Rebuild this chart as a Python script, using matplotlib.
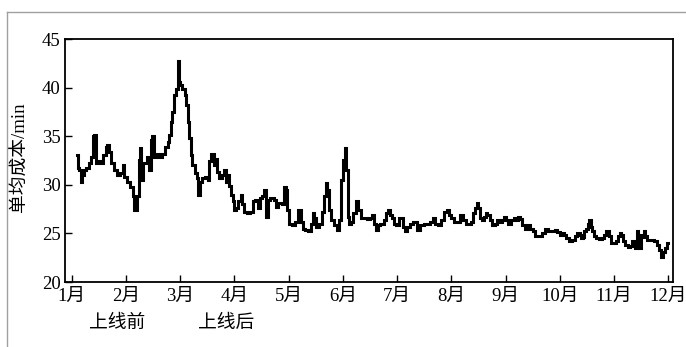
import matplotlib
matplotlib.use("Agg")
import matplotlib.pyplot as plt
from matplotlib.lines import Line2D

plt.rcParams['font.family'] = ['Liberation Serif', 'Noto Sans CJK SC', 'DejaVu Sans']

# x position in months (0 = 1月 tick), value = 单均成本 (min)
month_pos = [
    0.09, 0.12, 0.15, 0.18, 0.21, 0.24, 0.30, 0.34, 0.37, 0.40, 0.43, 0.45, 0.49, 0.55,
    0.61, 0.64, 0.67, 0.70, 0.74, 0.80, 0.86, 0.92, 0.95, 0.98, 1.04, 1.11, 1.13, 1.18,
    1.22, 1.24, 1.26, 1.29, 1.32, 1.38, 1.41, 1.44, 1.47, 1.50, 1.54, 1.58, 1.63, 1.69,
    1.75, 1.79, 1.81, 1.84, 1.87, 1.90, 1.94, 1.96, 1.98, 2.01, 2.06, 2.10, 2.12, 2.15,
    2.18, 2.21, 2.24, 2.29, 2.32, 2.35, 2.38, 2.43, 2.49, 2.52, 2.55, 2.60, 2.63, 2.67,
    2.70, 2.73, 2.80, 2.83, 2.86, 2.89, 2.92, 2.95, 2.98, 3.01, 3.04, 3.10, 3.13, 3.16,
    3.20, 3.26, 3.32, 3.35, 3.41, 3.44, 3.50, 3.53, 3.56, 3.60, 3.63, 3.69, 3.75, 3.78,
    3.84, 3.90, 3.93, 3.96, 3.99, 4.03, 4.09, 4.15, 4.18, 4.21, 4.24, 4.27, 4.33, 4.38,
    4.43, 4.46, 4.49, 4.53, 4.58, 4.64, 4.67, 4.70, 4.73, 4.76, 4.80, 4.86, 4.92, 4.95,
    4.98, 5.02, 5.05, 5.08, 5.10, 5.13, 5.16, 5.23, 5.27, 5.30, 5.35, 5.41, 5.47, 5.53,
    5.56, 5.59, 5.63, 5.65, 5.72, 5.78, 5.81, 5.84, 5.89, 5.93, 5.96, 6.01, 6.06, 6.09,
    6.12, 6.16, 6.21, 6.27, 6.32, 6.36, 6.39, 6.46, 6.52, 6.58, 6.64, 6.67, 6.73, 6.79,
    6.84, 6.89, 6.94, 6.98, 7.02, 7.07, 7.13, 7.19, 7.24, 7.29, 7.35, 7.38, 7.41, 7.46,
    7.48, 7.52, 7.54, 7.59, 7.62, 7.65, 7.68, 7.73, 7.78, 7.83, 7.87, 7.90, 7.96, 7.99,
    8.02, 8.07, 8.12, 8.18, 8.21, 8.26, 8.29, 8.33, 8.38, 8.42, 8.49, 8.51, 8.56, 8.64,
    8.70, 8.76, 8.82, 8.88, 8.93, 8.98, 9.01, 9.06, 9.10, 9.14, 9.19, 9.25, 9.30, 9.35,
    9.38, 9.41, 9.44, 9.47, 9.50, 9.53, 9.56, 9.58, 9.61, 9.65, 9.70, 9.75, 9.80, 9.84,
    9.88, 9.92, 9.96, 10.01, 10.05, 10.10, 10.11, 10.15, 10.18, 10.23, 10.27, 10.31, 10.36, 10.40,
    10.43, 10.46, 10.48, 10.50, 10.53, 10.56, 10.59, 10.64, 10.70, 10.76, 10.81, 10.85, 10.88, 10.92,
    10.96, 10.99,
]
cost = [
    33.1, 31.7, 31.5, 30.3, 31.0, 31.5, 31.7, 32.2, 32.9, 35.0, 35.1, 32.2, 32.4, 32.2,
    33.1, 33.9, 34.1, 33.4, 32.2, 31.5, 31.0, 31.2, 32.0, 30.8, 30.3, 29.8, 28.8, 27.4,
    28.8, 32.6, 33.8, 30.5, 32.2, 32.2, 32.9, 31.5, 34.6, 35.0, 32.9, 33.2, 32.9, 33.2,
    33.9, 34.4, 35.1, 36.5, 37.5, 39.2, 39.9, 42.7, 40.6, 40.3, 39.9, 39.2, 38.2, 36.5,
    34.8, 33.1, 32.0, 31.2, 30.7, 29.0, 30.3, 30.7, 30.8, 30.5, 32.4, 33.2, 32.0, 32.7,
    31.3, 30.7, 31.0, 31.5, 30.3, 31.0, 29.9, 29.0, 28.3, 27.4, 27.6, 28.3, 29.0, 28.0,
    27.2, 27.1, 27.2, 28.3, 28.4, 27.6, 28.6, 28.8, 29.5, 26.7, 28.4, 28.6, 28.4, 27.7,
    28.1, 28.0, 29.8, 29.5, 27.4, 26.0, 25.9, 26.2, 27.4, 27.4, 26.2, 25.5, 25.3, 25.2,
    26.0, 27.1, 26.6, 25.7, 26.0, 27.2, 28.8, 30.2, 29.5, 27.4, 26.4, 25.9, 25.3, 26.4,
    30.5, 32.6, 33.8, 31.5, 26.7, 26.0, 26.2, 27.1, 28.3, 27.4, 26.6, 26.6, 26.5, 26.6,
    26.9, 26.0, 25.3, 25.9, 26.0, 26.4, 27.1, 27.4, 26.9, 26.6, 26.0, 25.9, 26.6, 26.6,
    25.7, 25.2, 25.7, 26.0, 26.2, 26.2, 25.3, 25.9, 26.0, 26.0, 26.2, 26.6, 26.0, 25.9,
    26.4, 27.2, 27.4, 26.9, 26.6, 26.2, 26.2, 26.9, 26.4, 26.0, 26.0, 26.2, 27.1, 27.6,
    28.1, 27.6, 26.6, 26.4, 26.7, 27.1, 26.9, 26.4, 25.9, 26.0, 26.4, 26.2, 26.4, 26.7,
    26.4, 26.0, 26.4, 26.6, 26.4, 26.7, 26.5, 25.9, 25.5, 25.9, 25.5, 25.2, 24.7, 24.7,
    25.0, 25.5, 25.2, 25.2, 25.3, 25.1, 24.8, 25.0, 24.8, 24.5, 24.2, 24.3, 24.7, 25.0,
    24.8, 24.5, 24.6, 25.2, 25.5, 26.0, 26.4, 25.7, 25.2, 24.7, 24.5, 24.4, 24.5, 24.8,
    25.2, 24.7, 24.0, 24.0, 24.2, 24.7, 25.0, 24.8, 24.2, 23.8, 23.6, 23.7, 24.2, 23.5,
    25.2, 24.2, 23.5, 24.8, 24.6, 25.2, 24.7, 24.3, 24.3, 24.2, 23.8, 23.3, 22.6, 23.1,
    23.5, 24.0,
]

month_labels = ['1月', '2月', '3月', '4月', '5月', '6月', '7月', '8月', '9月', '10月', '11月', '12月']
yticks = [20, 25, 30, 35, 40, 45]
phase_labels = ['上线前', '上线后']
phase_pos = [0.84, 2.85]

fig = plt.figure(figsize=(6.86, 3.47), dpi=100)
ax = fig.add_axes([0.0948, 0.1873, 0.8864, 0.7003])

ax.plot(month_pos, cost, color='black', linewidth=2.2, drawstyle='steps-mid',
        solid_joinstyle='miter')

ax.set_xlim(-0.125, 11.09)
ax.set_ylim(20, 45)
ax.set_xticks(range(len(month_labels)))
ax.set_xticklabels(month_labels)
ax.set_yticks(yticks)
ax.tick_params(direction='in', length=5, width=1, labelsize=13.5, pad=3)
ax.tick_params(axis='x', pad=4)
for s in ax.spines.values():
    s.set_linewidth(1.3)

ax.set_ylabel('单均成本/min', fontsize=13.5)
ax.yaxis.set_label_coords(-0.062, 0.515)

for lbl, p in zip(phase_labels, phase_pos):
    ax.text(p, -0.17, lbl, transform=ax.get_xaxis_transform(), ha='center', va='center',
            fontsize=13.5)

# light frame lines of the figure
fig.add_artist(Line2D([0.0102, 1.0], [0.965, 0.965], transform=fig.transFigure,
                      color='#a0a0a0', linewidth=1.0))
fig.add_artist(Line2D([0.0102, 0.0102], [0.0, 0.965], transform=fig.transFigure,
                      color='#a0a0a0', linewidth=1.0))

fig.savefig('out.png', dpi=100)
